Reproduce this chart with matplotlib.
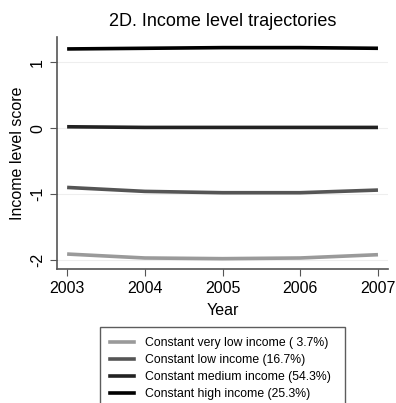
import numpy as np
from matplotlib import pyplot as plt
from matplotlib.lines import Line2D

plt.rcParams['font.family'] = ['Liberation Sans', 'DejaVu Sans']

years = [2003, 2004, 2005, 2006, 2007]
very_low = [-1.91, -1.97, -1.98, -1.97, -1.92]
low = [-0.90, -0.96, -0.98, -0.98, -0.94]
medium = [0.02, 0.01, 0.01, 0.01, 0.01]
high = [1.20, 1.21, 1.22, 1.22, 1.21]

labels = ['Constant very low income ( 3.7%)', 'Constant low income (16.7%)',
          'Constant medium income (54.3%)', 'Constant high income (25.3%)']
colors = ['#9a9a9a', '#555555', '#222222', '#000000']

fig = plt.figure(figsize=(3.96, 4.03), dpi=100)
ax = fig.add_axes([0.144, 0.332, 0.836, 0.576])

series = [very_low, low, medium, high]
for s, c in zip(series, colors):
    ax.plot(years, s, color=c, lw=2.6, solid_capstyle='butt')

ax.set_xlim(2002.87, 2007.13)
ax.set_ylim(-2.14, 1.38)
ax.set_xticks(years)
ax.set_yticks([-2, -1, 0, 1])
ax.set_yticklabels(['-2', '-1', '0', '1'], rotation=90, va='center')
ax.tick_params(labelsize=11.5, color='#555555', length=5)
ax.yaxis.grid(True, color='#eeeeee', lw=0.8)
ax.set_axisbelow(True)
for sp in ['top', 'right']:
    ax.spines[sp].set_visible(False)
for sp in ['left', 'bottom']:
    ax.spines[sp].set_color('#555555')
    ax.spines[sp].set_linewidth(1.2)

ax.set_xlabel('Year', fontsize=11.5, labelpad=5)
ax.set_ylabel('Income level score', fontsize=11.5, labelpad=4)
ax.set_title('2D. Income level trajectories', fontsize=13, pad=8)

handles = [Line2D([0], [0], color=c, lw=2.6) for c in colors]
leg = fig.legend(handles, labels, loc='upper left', mode='expand',
                 bbox_to_anchor=(100 / 396, 0, 245 / 396, 1 - 327 / 403),
                 fontsize=8.8, frameon=True, fancybox=False, handlelength=2.0,
                 handletextpad=0.9, labelspacing=0.42, borderpad=0.8, borderaxespad=0)
leg.get_frame().set_edgecolor('#333333')
leg.get_frame().set_linewidth(1.0)

fig.savefig('out.png', dpi=100)
